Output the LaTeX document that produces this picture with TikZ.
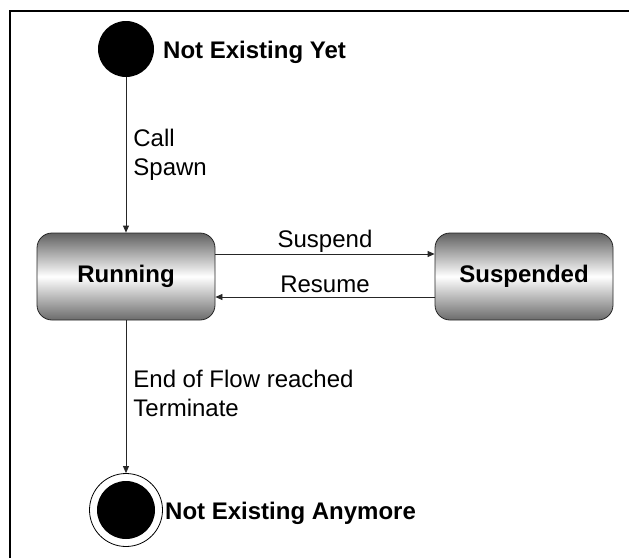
\documentclass[tikz,border=0pt]{standalone}
\usepackage{fontspec}
\setmainfont{Liberation Sans}
\usetikzlibrary{arrows.meta}

\tikzset{
  txt/.style={font=\fontsize{24}{29}\selectfont, inner sep=0pt},
  bold/.style={txt, font=\fontsize{24}{29}\selectfont\bfseries},
  statebox/.style={draw=black!85, line width=0.8pt, rounded corners=15pt,
    minimum width=178pt, minimum height=87pt,
    top color=black!62, bottom color=black!58, middle color=white,
    bold},
  initial/.style={circle, fill=black, minimum size=56pt, inner sep=0pt},
  final/.style={circle, draw=black, line width=0.8pt, fill=white, minimum size=73pt, inner sep=0pt},
  finaldot/.style={circle, fill=black, minimum size=58pt, inner sep=0pt},
  conn/.style={draw=black!85, line width=0.8pt, -{Triangle[length=7pt,width=6pt]}},
}

\begin{document}
\begin{tikzpicture}[x=1pt, y=-1pt]
  \useasboundingbox (0,0) rectangle (629,558);

  % frame
  \draw[line width=2pt] (10,558) -- (10,11) -- (629,11);

  % states
  \node[initial] (start) at (126,49) {};
  \node[bold, anchor=base west] (startlbl) at (163,58) {Not Existing Yet};

  \node[statebox] (running) at (126,276.5) {Running};
  \node[statebox] (suspended) at (524,276.5) {Suspended};

  \node[final] (stop) at (126,510) {};
  \node[finaldot] (stopdot) at (stop) {};
  \node[bold, anchor=base west] (stoplbl) at (165,519) {Not Existing Anymore};

  % transitions
  \draw[conn] (start) -- node[txt, anchor=west, align=left, xshift=7pt] (spawnlbl) {Call\\Spawn} (running);
  \draw[conn] (running.east |- 0,254) -- node[txt, anchor=base, yshift=7pt] (suslbl) {Suspend} (suspended.west |- 0,254);
  \draw[conn] (suspended.west |- 0,297) -- node[txt, anchor=base, yshift=5pt] (reslbl) {Resume} (running.east |- 0,297);
  \draw[conn] (running) -- node[txt, anchor=west, align=left, xshift=7pt, yshift=3pt] (termlbl) {End of Flow reached\\Terminate} (stop);
\end{tikzpicture}
\end{document}
